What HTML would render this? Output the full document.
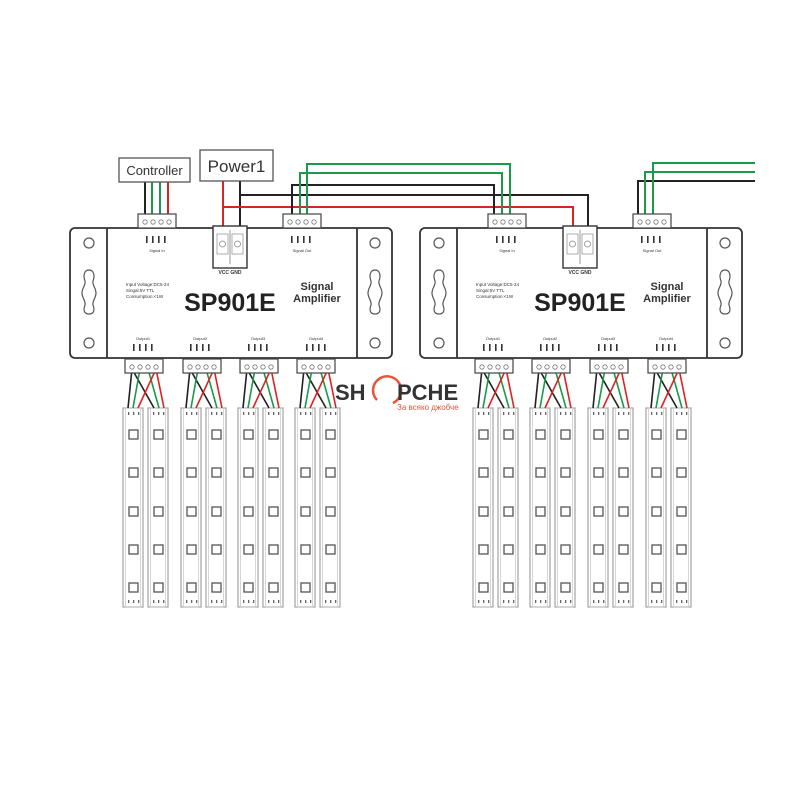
<!DOCTYPE html>
<html><head><meta charset="utf-8"><style>
html,body{margin:0;padding:0;background:#fff;width:800px;height:800px;overflow:hidden}
svg{display:block}
text{font-family:"Liberation Sans",sans-serif}
</style></head><body>
<svg width="800" height="800" viewBox="0 0 800 800" xmlns="http://www.w3.org/2000/svg">
<defs>
  <g id="pins">
    <rect x="0" y="0" width="1.6" height="7" fill="#333"/>
    <rect x="6" y="0" width="1.6" height="7" fill="#333"/>
    <rect x="12" y="0" width="1.6" height="7" fill="#333"/>
    <rect x="18" y="0" width="1.6" height="7" fill="#333"/>
  </g>
  <g id="conn">
    <rect x="0" y="0" width="38" height="14" fill="#fff" stroke="#444" stroke-width="1.2"/>
    <circle cx="7" cy="8" r="2.2" fill="none" stroke="#777" stroke-width="0.8"/>
    <circle cx="15" cy="8" r="2.2" fill="none" stroke="#777" stroke-width="0.8"/>
    <circle cx="23" cy="8" r="2.2" fill="none" stroke="#777" stroke-width="0.8"/>
    <circle cx="31" cy="8" r="2.2" fill="none" stroke="#777" stroke-width="0.8"/>
  </g>
  <g id="strip">
    <rect x="0" y="0" width="20" height="199" fill="#fff" stroke="#aaa" stroke-width="1.3"/>
    <rect x="2.5" y="0" width="15" height="199" fill="none" stroke="#ccc" stroke-width="0.8"/>
    <rect x="6" y="22" width="9" height="9" fill="none" stroke="#555" stroke-width="1.3"/>
    <rect x="6" y="60" width="9" height="9" fill="none" stroke="#555" stroke-width="1.3"/>
    <rect x="6" y="99" width="9" height="9" fill="none" stroke="#555" stroke-width="1.3"/>
    <rect x="6" y="137" width="9" height="9" fill="none" stroke="#555" stroke-width="1.3"/>
    <rect x="6" y="175" width="9" height="9" fill="none" stroke="#555" stroke-width="1.3"/>
    <rect x="5" y="4" width="1.3" height="3" fill="#666"/><rect x="10" y="4" width="1.3" height="3" fill="#666"/><rect x="15" y="4" width="1.3" height="3" fill="#666"/>
    <rect x="5" y="192" width="1.3" height="3" fill="#666"/><rect x="10" y="192" width="1.3" height="3" fill="#666"/><rect x="15" y="192" width="1.3" height="3" fill="#666"/>
  </g>
  <g id="pair">
    <use href="#strip" x="-2" y="49"/>
    <use href="#strip" x="23" y="49"/>
    <g fill="none" stroke-width="1.6">
      <line x1="7" y1="10" x2="3" y2="49" stroke="#222"/>
      <line x1="7" y1="10" x2="29" y2="49" stroke="#222"/>
      <line x1="15" y1="10" x2="8" y2="49" stroke="#1a9a4a"/>
      <line x1="23" y1="10" x2="34" y2="49" stroke="#1a9a4a"/>
      <line x1="31" y1="10" x2="13" y2="49" stroke="#d22"/>
      <line x1="31" y1="10" x2="39" y2="49" stroke="#d22"/>
    </g>
    <use href="#conn" x="0" y="0"/>
  </g>
  <g id="ear">
    <circle cx="0" cy="15" r="5" fill="none" stroke="#555" stroke-width="1.2"/>
    <circle cx="0" cy="115" r="5" fill="none" stroke="#555" stroke-width="1.2"/>
    <path d="M0,42 C5,42 6,48 4,53 C3,57 7,60 7,65 C7,70 3,73 4,77 C6,82 5,86 0,86 C-5,86 -6,82 -4,77 C-3,73 -7,70 -7,65 C-7,60 -3,57 -4,53 C-6,48 -5,42 0,42 Z" fill="none" stroke="#555" stroke-width="1.2"/>
  </g>
  <g id="box">
    <rect x="0" y="0" width="322" height="130" rx="5" fill="#fff" stroke="#333" stroke-width="1.8"/>
    <line x1="37" y1="0" x2="37" y2="130" stroke="#333" stroke-width="1.8"/>
    <line x1="287" y1="0" x2="287" y2="130" stroke="#333" stroke-width="1.8"/>
    <use href="#ear" x="19" y="0"/>
    <use href="#ear" x="305" y="0"/>
    <use href="#conn" x="68" y="-14"/>
    <use href="#conn" x="213" y="-14"/>
    <use href="#pins" x="76" y="8"/>
    <use href="#pins" x="221" y="8"/>
    <text x="87" y="24" font-size="4" text-anchor="middle" fill="#333">Signal In</text>
    <text x="232" y="24" font-size="4" text-anchor="middle" fill="#333">Signal Out</text>
    <rect x="143" y="-2" width="34" height="42" fill="#fff" stroke="#333" stroke-width="1.4"/>
    <line x1="160" y1="2" x2="160" y2="36" stroke="#999" stroke-width="1"/>
    <rect x="147" y="6" width="11" height="20" fill="none" stroke="#999" stroke-width="0.8"/>
    <rect x="162" y="6" width="11" height="20" fill="none" stroke="#999" stroke-width="0.8"/>
    <circle cx="152.5" cy="16" r="3" fill="none" stroke="#888" stroke-width="0.8"/>
    <circle cx="167.5" cy="16" r="3" fill="none" stroke="#888" stroke-width="0.8"/>
    <text x="160" y="46" font-size="5" font-weight="bold" text-anchor="middle" fill="#333">VCC GND</text>
    <text x="56" y="58" font-size="4.5" fill="#333">Input Voltage:DC5-24</text>
    <text x="56" y="64" font-size="4.5" fill="#333">Singal:5V TTL</text>
    <text x="56" y="70" font-size="4.5" fill="#333">Consumption:&lt;1W</text>
    <text x="160" y="83" font-size="25" font-weight="bold" text-anchor="middle" fill="#222">SP901E</text>
    <text x="247" y="62" font-size="11" font-weight="bold" text-anchor="middle" fill="#333">Signal</text>
    <text x="247" y="74" font-size="11" font-weight="bold" text-anchor="middle" fill="#333">Amplifier</text>
    <text x="73" y="112" font-size="4" text-anchor="middle" fill="#333">Output1</text>
    <text x="130" y="112" font-size="4" text-anchor="middle" fill="#333">Output2</text>
    <text x="188" y="112" font-size="4" text-anchor="middle" fill="#333">Output3</text>
    <text x="246" y="112" font-size="4" text-anchor="middle" fill="#333">Output4</text>
    <use href="#pins" x="63" y="116"/>
    <use href="#pins" x="120" y="116"/>
    <use href="#pins" x="178" y="116"/>
    <use href="#pins" x="236" y="116"/>
  </g>
</defs>

<g fill="none" stroke-width="2">
  <polyline points="145,182 145,214" stroke="#222"/>
  <polyline points="152,182 152,214" stroke="#1a9a4a"/>
  <polyline points="160,182 160,214" stroke="#1a9a4a"/>
  <polyline points="168,182 168,214" stroke="#d22"/>
  <polyline points="223,181 223,230" stroke="#d22"/>
  <polyline points="240,181 240,230" stroke="#222"/>
  <polyline points="223,207 573,207 573,230" stroke="#d22"/>
  <polyline points="240,195 588,195 588,230" stroke="#222"/>
  <polyline points="292,214 292,185 494,185 494,214" stroke="#222"/>
  <polyline points="300,214 300,173 502,173 502,214" stroke="#1a9a4a"/>
  <polyline points="307,214 307,164 510,164 510,214" stroke="#1a9a4a"/>
  <polyline points="638,214 638,181 755,181" stroke="#222"/>
  <polyline points="645,214 645,172 755,172" stroke="#1a9a4a"/>
  <polyline points="653,214 653,163 755,163" stroke="#1a9a4a"/>
</g>

<rect x="119" y="158" width="71" height="24" fill="#fff" stroke="#555" stroke-width="1.3"/>
<text x="154.5" y="175" font-size="13" text-anchor="middle" fill="#333">Controller</text>
<rect x="200" y="150" width="73" height="31" fill="#fff" stroke="#555" stroke-width="1.3"/>
<text x="236.5" y="172" font-size="17" text-anchor="middle" fill="#333">Power1</text>

<use href="#box" x="70" y="228"/>
<use href="#box" x="420" y="228"/>

<use href="#pair" x="125" y="359"/>
<use href="#pair" x="183" y="359"/>
<use href="#pair" x="240" y="359"/>
<use href="#pair" x="297" y="359"/>
<use href="#pair" x="475" y="359"/>
<use href="#pair" x="532" y="359"/>
<use href="#pair" x="590" y="359"/>
<use href="#pair" x="648" y="359"/>

<path d="M377,400 A14,14 0 1 1 393,403" fill="none" stroke="#e8553a" stroke-width="2.5"/>
<text x="335" y="400" font-size="22" font-weight="bold" fill="#333">SH</text>
<text x="397" y="400" font-size="22" font-weight="bold" fill="#333">PCHE</text>
<text x="397" y="410" font-size="8" fill="#e8553a">За всяко джобче</text>
</svg>
</body></html>
